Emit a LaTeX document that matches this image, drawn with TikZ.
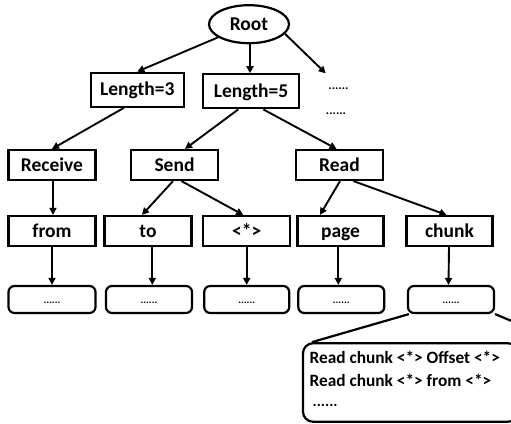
\documentclass[tikz,border=0pt]{standalone}
\usepackage{fontspec}
\setmainfont{Carlito}
\usetikzlibrary{shapes.geometric,arrows.meta}

\begin{document}
\begin{tikzpicture}[x=1pt,y=-1pt,
  every node/.style={font=\fontsize{19.5}{22}\selectfont\bfseries, inner sep=0pt},
  box/.style={draw, line width=2.2pt, minimum width=87pt, minimum height=30pt,
    text height=12.4pt, text depth=0pt},
  leaf/.style={draw, line width=2.2pt, rounded corners=6pt, minimum width=86pt,
    minimum height=27pt, font=\fontsize{10.5}{12}\selectfont\bfseries,
    text height=7pt, text depth=0pt},
  arr/.style={line width=1.9pt, -{Triangle[length=7pt,width=7pt]}},
  dots/.style={font=\fontsize{12.5}{14}\selectfont\bfseries, anchor=base},
  calltext/.style={font=\fontsize{17.3}{20}\selectfont\bfseries, anchor=base west}
]
\useasboundingbox (0,0) rectangle (511,423);

% root and first level
\node[draw, ellipse, line width=2.2pt, minimum width=80pt, minimum height=38pt,
  text height=12.4pt, text depth=0pt] (root) at (249,24.2) {Root};
\node[box, minimum width=93pt, minimum height=34pt] (len3) at (137.3,89.7) {Length=3};
\node[box, minimum width=96pt, minimum height=34pt] (len5) at (251,91.3) {Length=5};
\coordinate (rd) at (325.7,73.3);
\node[dots] (dotsA) at (338.5,89.3) {......};
\node[dots] (dotsB) at (336,114) {......};

% second level
\node[box] (recv) at (52,165) {Receive};
\node[box] (send) at (174.5,165) {Send};
\node[box] (read) at (339.5,165) {Read};

% third level
\node[box, minimum width=87pt] (from) at (52,231) {from};
\node[box, minimum width=87pt] (to) at (148,231) {to};
\node[box, minimum width=87pt] (star) at (246.7,231) {<*>};
\node[box, minimum width=86pt] (page) at (340.5,231) {page};
\node[box, minimum width=86pt] (chunk) at (449.5,231) {chunk};

% leaves
\node[leaf, minimum width=87pt] (d1) at (52,299.5) {......};
\node[leaf] (d2) at (149,299.5) {......};
\node[leaf, minimum width=85pt] (d3) at (246.7,299.5) {......};
\node[leaf] (d4) at (341.3,299.5) {......};
\node[leaf] (d5) at (451,299.5) {......};

% callout with the stored templates
\node[draw, line width=2.2pt, rounded corners=10pt, minimum width=215pt,
  minimum height=78.5pt] (callout) at (410.5,382.5) {};
\node[calltext] (t1) at (309.5,363.3) {Read chunk <*> Offset <*>};
\node[calltext] (t2) at (309.5,386) {Read chunk <*> from <*>};
\node[calltext, font=\fontsize{15.5}{18}\selectfont\bfseries] (t3) at (312.5,406) {......};
\draw[line width=2.2pt] ([xshift=2pt]d5.south west) -- ([xshift=10pt]callout.north west);
\draw[line width=2.2pt] (d5.south east) -- ([yshift=18pt]callout.north east);

% connectors
\draw[arr] (root) -- (len3.north);
\draw[arr] ([xshift=-1pt]len5.north |- root.south) -- ([xshift=-1pt]len5.north);
\draw[arr] (root.-15) -- (rd);
\draw[arr] ([xshift=-13.3pt]len3.south) -- (recv.north);
\draw[arr] ([xshift=-12.7pt]len5.south) -- ([xshift=10.5pt]send.north);
\draw[arr] ([xshift=12.3pt]len5.south) -- ([xshift=-3pt]read.north);
\draw[arr] ([xshift=1pt]recv.south) -- ([xshift=1pt]from.north);
\draw[arr] ([xshift=-1.5pt]send.south) -- ([xshift=-6pt]to.north);
\draw[arr] ([xshift=7pt]send.south) -- ([xshift=-3.5pt]star.north);
\draw[arr] ([xshift=0.5pt]read.south) -- ([xshift=-20.5pt]page.north);
\draw[arr] ([xshift=14pt]read.south) -- ([xshift=-3pt]chunk.north);
\draw[arr] (from.south) -- (d1.north);
\draw[arr] ([xshift=4.3pt]to.south) -- ([xshift=3.3pt]d2.north);
\draw[arr] (star.south) -- (d3.north);
\draw[arr] ([xshift=-2.2pt]page.south) -- ([xshift=-3pt]d4.north);
\draw[arr] ([xshift=-0.5pt]chunk.south) -- ([xshift=-2.5pt]d5.north);
\end{tikzpicture}
\end{document}
